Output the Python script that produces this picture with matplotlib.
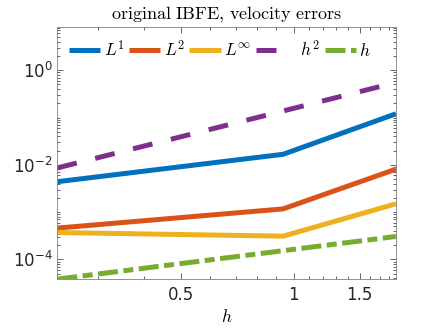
import numpy as np
import matplotlib
matplotlib.use("Agg")
import matplotlib.pyplot as plt
from matplotlib.ticker import FixedLocator, FixedFormatter, NullFormatter

# Data
h = [0.234375, 0.9375, 1.875]
L1 = [4.4e-3, 1.67e-2, 0.12]
L2 = [4.6e-4, 1.17e-3, 8.1e-3]
Linf = [3.7e-4, 3.1e-4, 1.5e-3]
h2_ref = [8.6e-3, 0.1376, 0.55]
h_ref = [3.83e-5, 1.53e-4, 3.06e-4]

series_labels = [r'$L^1$', r'$L^2$', r'$L^\infty$', r'$\ \ h^2$', r'$h$']
xticks = [0.5, 1, 1.5]
xticklabels = ['0.5', '1', '1.5']
yticks = [1e-4, 1e-2, 1e0]
yticklabels = [r'$10^{-4}$', r'$10^{-2}$', r'$10^{0}$']

colors = ['#0072BD', '#D95319', '#EDB120', '#7E2F8E', '#77AC30']
lw = 3.6

fig = plt.figure(figsize=(4.38, 3.28), dpi=100)
ax = fig.add_axes([0.131, 0.149, 0.773, 0.769])

ax.plot(h, L1, color=colors[0], lw=lw, label=series_labels[0])
ax.plot(h, L2, color=colors[1], lw=lw, label=series_labels[1])
ax.plot(h, Linf, color=colors[2], lw=lw, label=series_labels[2])
ax.plot(h, h2_ref, color=colors[3], lw=lw, linestyle=(0, (4, 3.8)), label=series_labels[3])
ax.plot(h, h_ref, color=colors[4], lw=lw, linestyle=(0, (4, 1.1, 2, 1.1)), label=series_labels[4])

for l in ax.get_lines():
    l.set_solid_capstyle('butt')
    l.set_dash_capstyle('butt')
    l.set_solid_joinstyle('miter')

ax.set_xscale('log')
ax.set_yscale('log')
ax.set_xlim(h[0], h[-1])
ax.set_ylim(3.83e-5, 8.25)

ax.xaxis.set_major_locator(FixedLocator(xticks))
ax.xaxis.set_major_formatter(FixedFormatter(xticklabels))
minor_x = [0.3, 0.4, 0.6, 0.7, 0.8, 0.9, 1.1, 1.2, 1.3, 1.4, 1.6, 1.7, 1.8]
ax.xaxis.set_minor_locator(FixedLocator(minor_x))
ax.xaxis.set_minor_formatter(NullFormatter())

ax.yaxis.set_major_locator(FixedLocator(yticks))
ax.yaxis.set_major_formatter(FixedFormatter(yticklabels))
minor_y = [m * 10.0**e for e in range(-5, 2) for m in range(1, 10)]
minor_y = [v for v in minor_y if v not in yticks]
ax.yaxis.set_minor_locator(FixedLocator(minor_y))
ax.yaxis.set_minor_formatter(NullFormatter())

tc = '#262626'
ax.tick_params(which='both', direction='in', top=True, right=True, colors=tc,
               labelsize=12, width=0.5)
ax.tick_params(which='major', length=4)
ax.tick_params(which='minor', length=2)
ax.tick_params(axis='x', which='major', pad=5)
for lab in ax.get_xticklabels() + ax.get_yticklabels():
    lab.set_math_fontfamily('dejavusans')
    lab.set_color(tc)
for s in ax.spines.values():
    s.set_color('#808080')
    s.set_linewidth(0.6)

t = ax.set_title(r'$\mathrm{original\ IBFE{,}\ velocity\ errors}$', fontsize=13, pad=5)
t.set_math_fontfamily('cm')
xl = ax.set_xlabel(r'$h$', fontsize=12.5, labelpad=3)
xl.set_math_fontfamily('cm')

leg = ax.legend(ncol=5, frameon=False, loc='upper left',
                bbox_to_anchor=(-0.012, 1.01), fontsize=12.5,
                handlelength=1.8, handletextpad=0.2, columnspacing=0.25,
                borderaxespad=0.5)
for txt in leg.get_texts():
    txt.set_math_fontfamily('cm')

fig.savefig('out.png', dpi=100)
